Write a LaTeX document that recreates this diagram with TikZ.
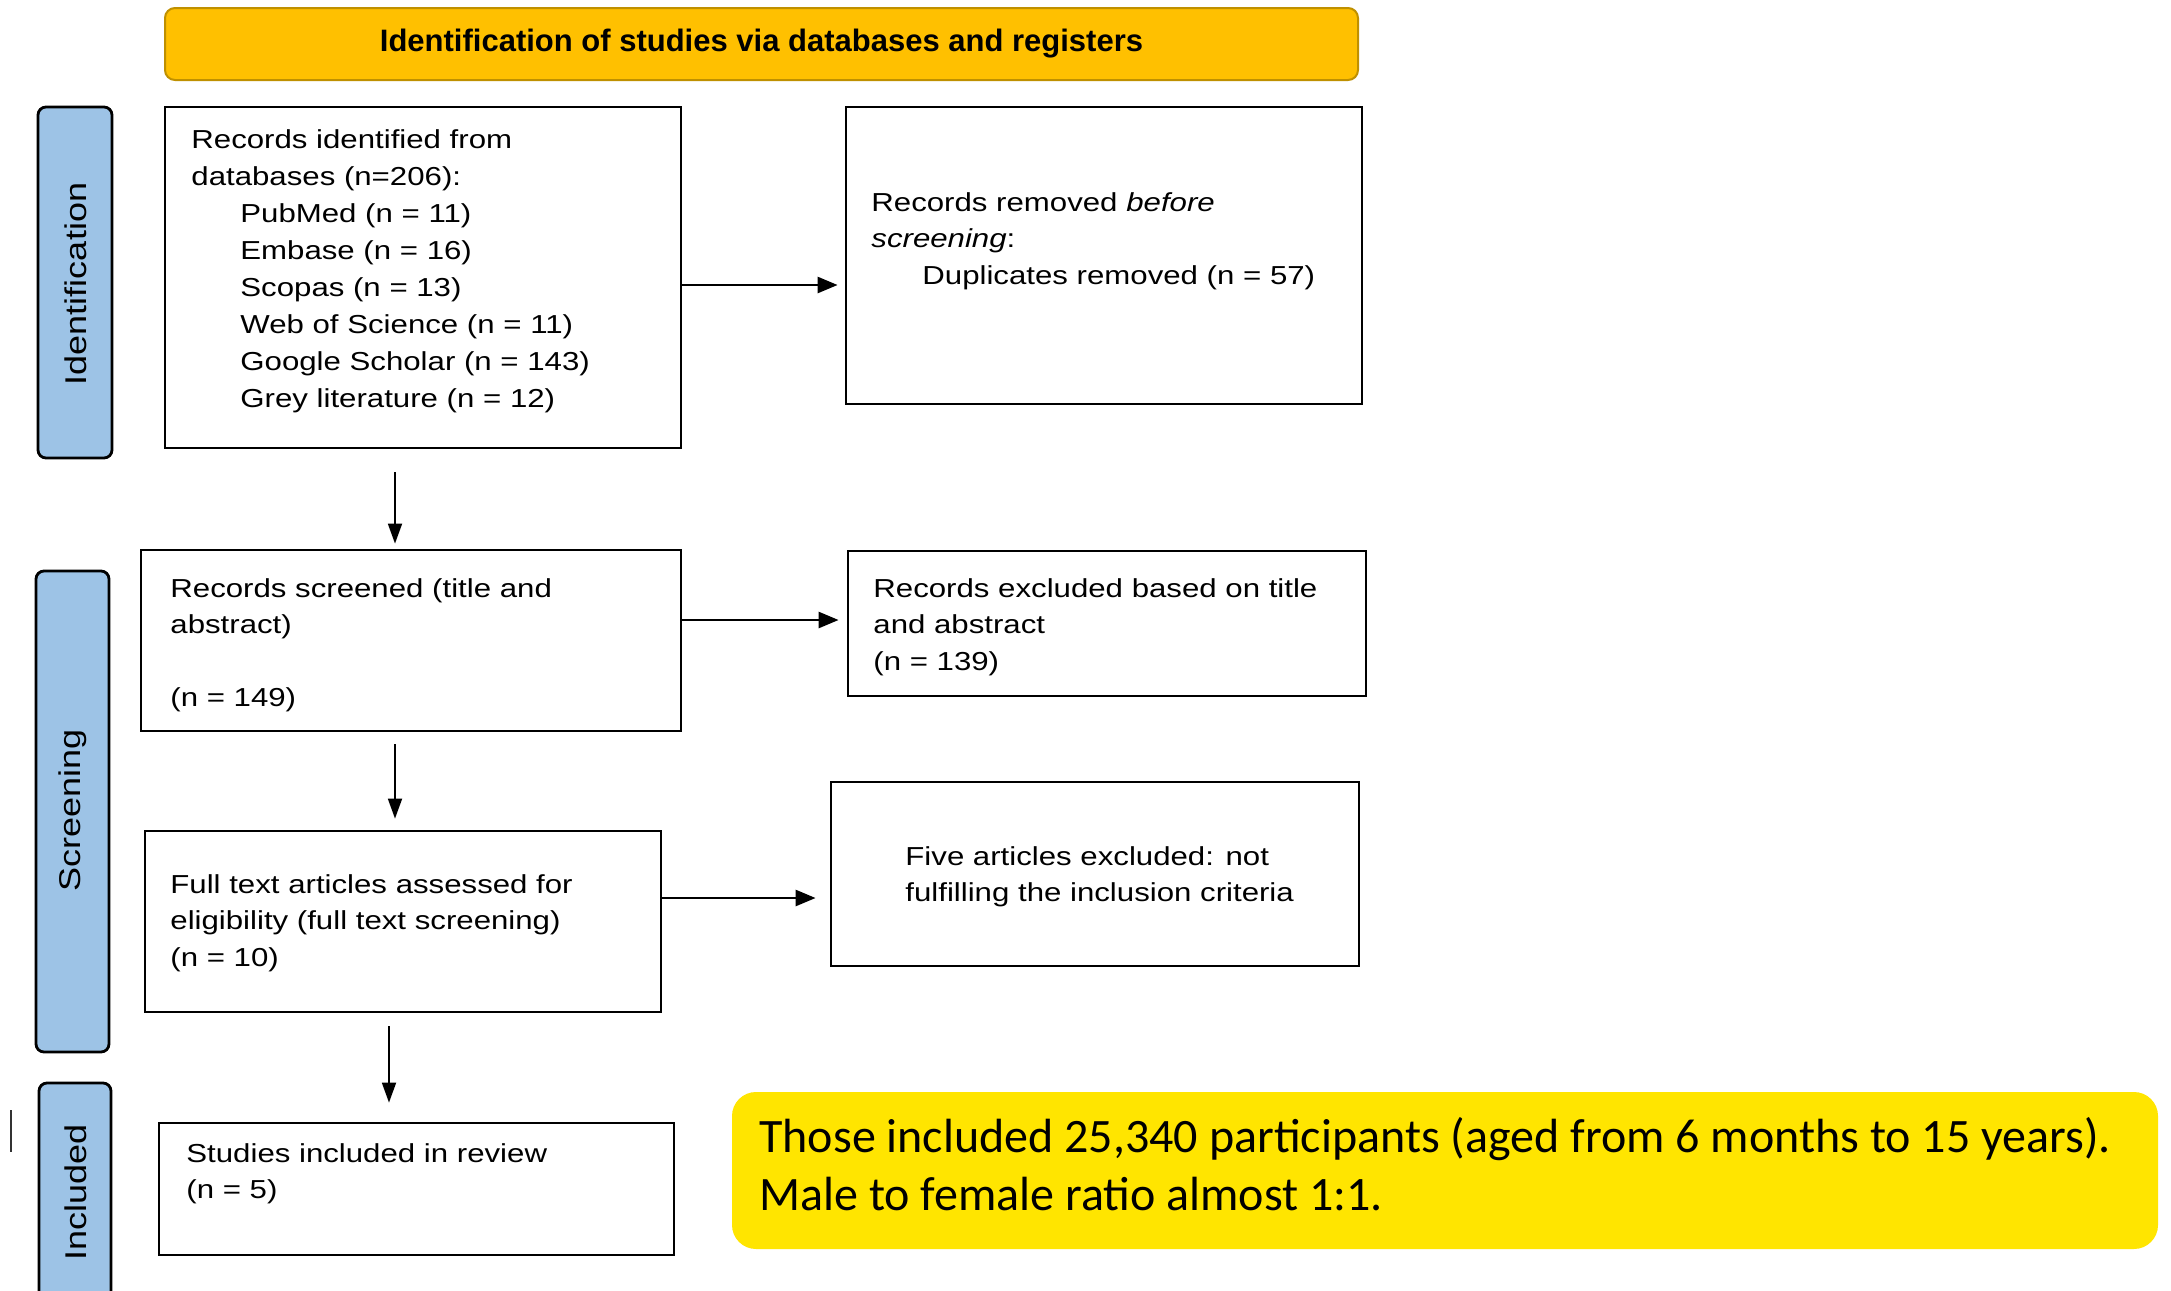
\documentclass[tikz,border=0pt]{standalone}
\usepackage{fontspec}
\setmainfont{Liberation Sans}
\newfontfamily\boxfont{Liberation Sans}[FakeStretch=1.2]
\newfontfamily\calfont{Carlito}
\usetikzlibrary{arrows.meta}
\definecolor{hdrfill}{HTML}{FFC000}
\definecolor{hdrline}{HTML}{BF9000}
\definecolor{sidefill}{HTML}{9DC3E6}
\definecolor{notefill}{HTML}{FFE500}
\begin{document}
\begin{tikzpicture}[x=0.5pt,y=-0.5pt,
  box/.style={draw=black, line width=1.4pt, inner sep=0pt},
  side/.style={draw=black, line width=1.4pt, fill=sidefill, rounded corners=4pt, inner sep=0pt},
  btext/.style={anchor=north west, inner sep=0pt, align=left, font=\boxfont\fontsize{13}{18.2}\selectfont},
  sidetext/.style={rotate=90, inner sep=0pt, font=\boxfont\fontsize{15}{18}\selectfont},
  arr/.style={-{Triangle[length=10pt,width=8pt]}, line width=1.3pt},
  varr/.style={-{Triangle[length=10pt,width=7pt]}, line width=0.9pt}
]
\useasboundingbox (0,0) rectangle (2171,1290);
\fill[white] (0,0) rectangle (2171,1290);

% header
\node[draw=hdrline, fill=hdrfill, line width=1pt, rounded corners=5pt,
      minimum width=596.5pt, minimum height=36pt, inner sep=0pt,
      font=\bfseries\fontsize{15.5}{18}\selectfont] (hdr) at (761.5,44)
      {Identification of studies via databases and registers};

% side bars
\node[side, minimum width=37pt, minimum height=175.5pt] (sideI) at (75,282.5) {};
\node[side, minimum width=36.5pt, minimum height=240.5pt] (sideS) at (72.5,811.5) {};
\node[side, minimum width=36pt, minimum height=113.5pt] (sideN) at (75,1196.5) {};
\node[sidetext] (sideIt) at (76,284) {Identification};
\node[sidetext] (sideSt) at (73,810) {Screening};
\node[sidetext] (sideNt) at (76,1192) {Included};

% boxes
\node[box, minimum width=258pt, minimum height=170.5pt] (b1) at (423,277.5) {};
\node[box, minimum width=258pt, minimum height=148.5pt] (b2) at (1104,255.5) {};
\node[box, minimum width=270pt, minimum height=90.5pt] (b3) at (411,640.5) {};
\node[box, minimum width=259pt, minimum height=72.5pt] (b4) at (1107,623.5) {};
\node[box, minimum width=258pt, minimum height=90.5pt] (b5) at (403,921.5) {};
\node[box, minimum width=264pt, minimum height=92pt] (b6) at (1095,874) {};
\node[box, minimum width=257.5pt, minimum height=66pt] (b7) at (416.5,1189) {};

% box texts
\node[btext, font=\boxfont\fontsize{13}{18.5}\selectfont] (b1t) at (191,129) {Records identified from\\
databases (n=206):\\
\hspace*{24.5pt}PubMed (n = 11)\\
\hspace*{24.5pt}Embase (n = 16)\\
\hspace*{24.5pt}Scopas (n = 13)\\
\hspace*{24.5pt}Web of Science (n = 11)\\
\hspace*{24.5pt}Google Scholar (n = 143)\\
\hspace*{24.5pt}Grey literature (n = 12)};
\node[btext] (b2t) at (871,192) {Records removed \textit{before}\\
\textit{screening}:\\
\hspace*{25.5pt}Duplicates removed (n = 57)};
\node[btext] (b3t) at (170,578) {Records screened (title and\\
abstract)\\[18.2pt]
(n = 149)};
\node[btext] (b4t) at (873,578) {Records excluded based on title\\
and abstract\\
(n = 139)};
\node[btext] (b5t) at (170,874) {Full text articles assessed for\\
eligibility (full text screening)\\
(n = 10)};
\node[btext] (b6t) at (905,846) {Five articles excluded: not\\
fulfilling the inclusion criteria};
\node[btext] (b7t) at (186,1143) {Studies included in review\\
(n = 5)};

% note
\node[fill=notefill, rounded corners=12pt, minimum width=713pt, minimum height=78.5pt, inner sep=0pt] (note) at (1445,1170.5) {};
\node[anchor=north west, inner sep=0pt, align=left, font=\calfont\fontsize{24}{29}\selectfont] (notet) at (759,1117)
  {Those included 25,340 participants (aged from 6 months to 15 years).\\
   Male to female ratio almost 1:1.};

% arrows
\draw[arr, shorten >=3.5pt] (b1.east |- 0,285) -- (b2.west |- 0,285);
\draw[varr, shorten <=11.5pt, shorten >=2.5pt] (b1.south -| 395,0) -- (b3.north -| 395,0);
\draw[arr, shorten >=4pt] (b3.east |- 0,620) -- (b4.west |- 0,620);
\draw[varr, shorten <=6pt, shorten >=5.5pt] (b3.south -| 395,0) -- (b5.north -| 395,0);
\draw[arr, shorten >=7pt] (b5.east |- 0,898) -- (b6.west |- 0,898);
\draw[varr, shorten <=6.5pt, shorten >=9.5pt] (b5.south -| 389,0) -- (b7.north -| 389,0);

% stray mark
\draw[line width=0.8pt, black!80] (11,1110) -- (11,1152);
\end{tikzpicture}
\end{document}
